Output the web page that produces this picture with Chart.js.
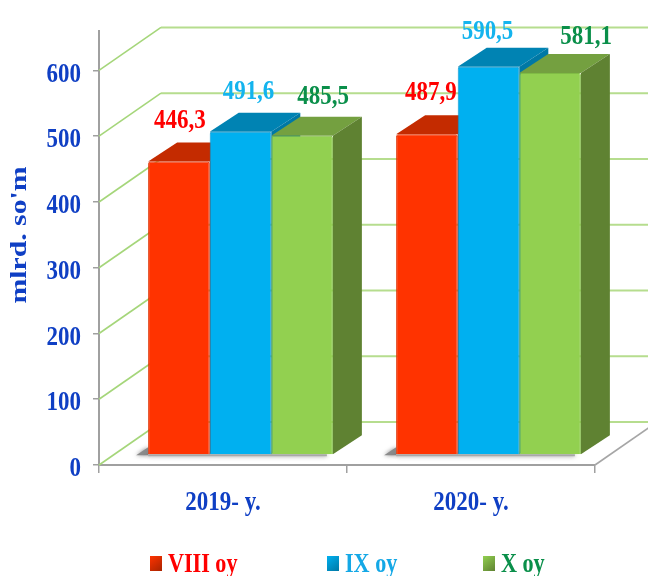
<!DOCTYPE html>
<html><head><meta charset="utf-8">
<style>html,body{margin:0;padding:0;background:#fff}canvas{display:block;filter:blur(0.45px)}</style>
<script src="https://cdn.jsdelivr.net/npm/chart.js@4/dist/chart.umd.min.js"></script>
</head><body><canvas id="c" width="648" height="576"></canvas>
<script>
const categories = ["2019- y.", "2020- y."];
const seriesNames = ["VIII oy", "IX oy", "X oy"];
const viii = [446.3, 487.9];
const ix = [491.6, 590.5];
const x10 = [485.5, 581.1];
const yTickStep = 100, yMax = 660;

const frontColors = ["#FF3300", "#00B0F0", "#92D050"];
const borderColors = ["#DD3000", "#0A98D0", "#80BC45"];
const topColors = ["#C42B00", "#0083B3", "#74A040"];
const sideColors = ["#A82400", "#0078A5", "#5F8232"];
const labelColors = ["#FF0000", "#14B4EE", "#0A8F4A"];
const legendTextColors = ["#FF0000", "#14A8E6", "#0A8F4A"];
const blue = "#0F3FC4", serif = "'Liberation Serif'";
const wallDepth = {dx: 62, dy: -43}, barShift = {dx: 17.5, dy: -10}, barDepth = {dx: 29, dy: -19};
const labelShift = [[[1, -34], [8, -33], [21, -32]], [[4, -34], [-1, -28], [36, -29]]];
const legendX = [150, 327, 483], legendY = 556;
const squeeze = 0.82, titleStretch = 1.24, titleRaise = 13, tickDrop = 4;

function poly(ctx, pts, fill) {
  ctx.fillStyle = fill; ctx.beginPath();
  pts.forEach((p, i) => i ? ctx.lineTo(p[0], p[1]) : ctx.moveTo(p[0], p[1]));
  ctx.closePath(); ctx.fill();
}
const canvas = document.getElementById("c");
const ctx0 = canvas.getContext("2d");
const rawFillText = ctx0.fillText.bind(ctx0);
ctx0.fillText = function (t, x, y, w) {
  const f = ctx0.font;
  if (/(27|28)px/.test(f)) {
    ctx0.save();
    ctx0.translate(x, y + (ctx0.textBaseline === "middle" && ctx0.textAlign === "right" ? tickDrop : 0));
    ctx0.scale(squeeze, 1);
    rawFillText(t, 0, 0); ctx0.restore();
  } else if (/24px/.test(f)) {
    ctx0.save(); ctx0.translate(x + titleRaise, y); ctx0.scale(titleStretch, 1);
    rawFillText(t, 0, 0); ctx0.restore();
  } else rawFillText(t, x, y, w);
};

const scene = {
  id: "scene",
  beforeDatasetsDraw(chart) {
    const {ctx, chartArea: a, scales: {y}} = chart;
    ctx.save();
    y.ticks.forEach(t => {
      const py = y.getPixelForValue(t.value);
      ctx.strokeStyle = "#B6DD8E"; ctx.lineWidth = 2;
      ctx.beginPath();
      ctx.moveTo(a.left + wallDepth.dx, py + wallDepth.dy);
      ctx.lineTo(648, py + wallDepth.dy);
      ctx.stroke();
      ctx.lineWidth = 1.6; ctx.strokeStyle = "#A5D67A";
      ctx.beginPath();
      ctx.moveTo(a.left, py);
      ctx.lineTo(a.left + wallDepth.dx, py + wallDepth.dy);
      ctx.stroke();
    });
    ctx.strokeStyle = "#A6A6A6"; ctx.lineWidth = 1.6;
    ctx.beginPath();
    ctx.moveTo(a.right, a.bottom);
    ctx.lineTo(a.right + wallDepth.dx, a.bottom + wallDepth.dy);
    ctx.stroke();
    ctx.restore();

    ctx.save();
    ctx.translate(barShift.dx, barShift.dy);
    const metas = chart.data.datasets.map((_, i) => chart.getDatasetMeta(i));
    categories.forEach((_, c) => {
      const first = metas[0].data[c], last = metas[2].data[c];
      const l = first.x - first.width / 2, r = last.x + last.width / 2, b = first.base;
      ctx.save();
      ctx.shadowColor = "rgba(50,50,50,.6)"; ctx.shadowBlur = 4;
      poly(ctx, [[l - 12, b + 1], [l, b - 7], [l, b + 1]], "#8A8A8A");
      poly(ctx, [[l, b], [r - 6, b], [r - 6, b + 2], [l, b + 2]], "#A8A8A8");
      ctx.restore();
      metas.forEach((m, s) => {
        const e = m.data[c], L = e.x - e.width / 2, R = e.x + e.width / 2, T = e.y;
        const {dx, dy} = barDepth;
        poly(ctx, [[L, T], [R, T], [R + dx, T + dy], [L + dx, T + dy]], topColors[s]);
        poly(ctx, [[R, T], [R + dx, T + dy], [R + dx, e.base + dy], [R, e.base]], sideColors[s]);
      });
    });
  },
  afterDatasetsDraw(chart) {
    const {ctx} = chart;
    ctx.restore();
    ctx.save();
    ctx.font = "bold 28px " + serif;
    ctx.textAlign = "center"; ctx.textBaseline = "alphabetic";
    chart.data.datasets.forEach((ds, s) => {
      chart.getDatasetMeta(s).data.forEach((e, c) => {
        const sh = labelShift[c][s];
        ctx.fillStyle = labelColors[s];
        ctx.fillText(ds.data[c].toFixed(1).replace(".", ","), e.x + barShift.dx + sh[0], e.y + barShift.dy + sh[1]);
      });
    });
    ctx.textAlign = "left";
    ctx.font = "bold 27px " + serif;
    seriesNames.forEach((n, s) => {
      const x = legendX[s];
      const g = ctx.createLinearGradient(x, legendY, x + 12, legendY + 15);
      g.addColorStop(0, frontColors[s]); g.addColorStop(1, sideColors[s]);
      ctx.fillStyle = g; ctx.fillRect(x, legendY, 12, 15);
      ctx.fillStyle = legendTextColors[s];
      ctx.fillText(n, x + 18, legendY + 16);
    });
    ctx.restore();
  }
};

new Chart(canvas, {
  type: "bar",
  data: {
    labels: categories,
    datasets: [viii, ix, x10].map((d, s) => ({
      label: seriesNames[s], data: d, backgroundColor: frontColors[s],
      borderColor: borderColors[s], borderWidth: 1, clip: false,
      borderRadius: {topLeft: 2, topRight: 2},
      categoryPercentage: 0.745, barPercentage: 1
    }))
  },
  options: {
    responsive: false, animation: false, devicePixelRatio: 1,
    layout: {padding: {top: 31, right: 53, bottom: 0, left: 0}},
    plugins: {legend: {display: false}, tooltip: {enabled: false}},
    scales: {
      x: {
        afterFit: s => { s.height = 111; },
        border: {color: "#A0A0A0", width: 2},
        grid: {drawOnChartArea: false, drawTicks: true, tickLength: 8, color: "#A0A0A0", lineWidth: 1.5},
        ticks: {color: blue, padding: 13, maxRotation: 0, font: {family: serif, weight: "bold", size: 28}}
      },
      y: {
        min: 0, max: yMax,
        afterFit: s => { s.width = 99; },
        border: {color: "#A0A0A0", width: 2},
        grid: {drawOnChartArea: false, drawTicks: true, tickLength: 6, color: "#A0A0A0", lineWidth: 1.5},
        ticks: {stepSize: yTickStep, includeBounds: false, color: blue, padding: 12, font: {family: serif, weight: "bold", size: 28}},
        title: {display: true, text: "mlrd. so'm", color: blue, padding: {top: 5, bottom: 0}, font: {family: serif, weight: "bold", size: 24}}
      }
    }
  },
  plugins: [scene]
});
</script></body></html>
